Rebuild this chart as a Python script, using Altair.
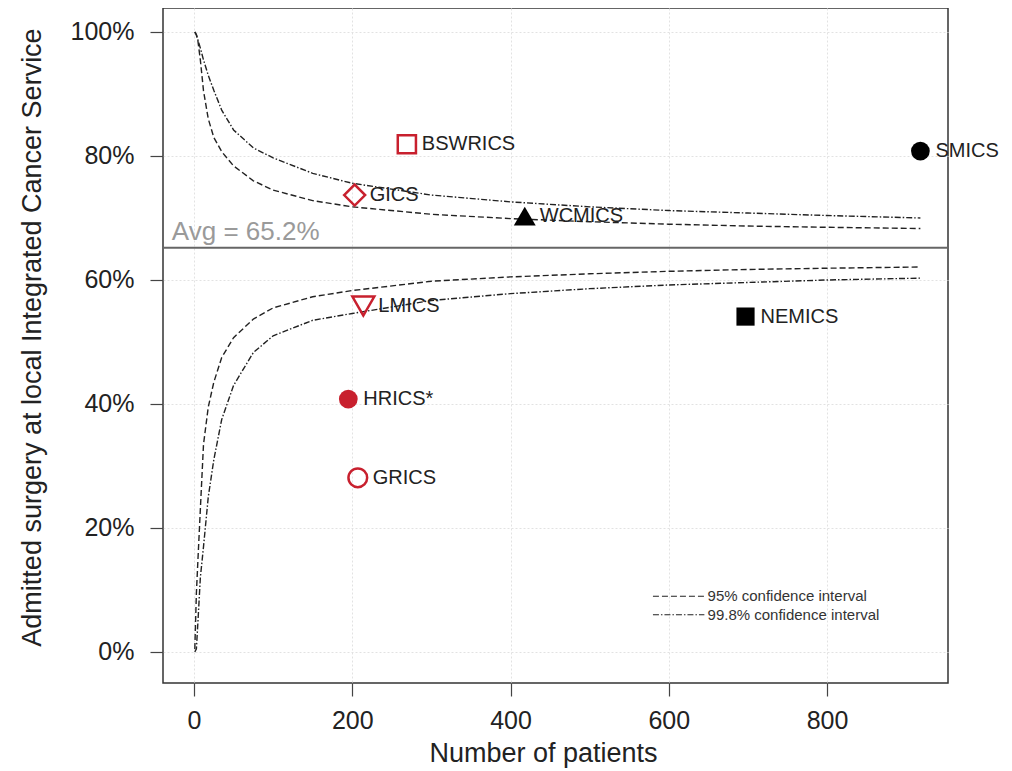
import altair as alt
import pandas as pd

# ---- funnel limits (percent) ----
n_grid = [1, 3, 5, 8, 12, 18, 25, 35, 50, 75, 100, 150, 200, 300, 400, 500, 600, 700, 800, 918]
upper_95 = [100, 99.5, 98.5, 95.5, 90.5, 86.0, 83.0, 80.7, 78.4, 76.0, 74.5, 72.8, 71.8, 70.6, 69.9, 69.4, 69.0, 68.7, 68.5, 68.3]
lower_95 = [0.5, 9.5, 15.0, 23.0, 33.5, 39.5, 43.5, 47.5, 50.7, 53.7, 55.5, 57.3, 58.3, 59.8, 60.5, 61.0, 61.4, 61.7, 61.9, 62.1]
upper_998 = [100, 99.6, 98.7, 97.4, 95.5, 93.0, 90.6, 87.4, 84.2, 81.3, 79.7, 77.2, 75.6, 73.7, 72.6, 71.8, 71.2, 70.8, 70.4, 70.0]
lower_998 = [0.0, 0.5, 5.0, 12.0, 17.0, 25.0, 31.0, 37.5, 43.0, 48.3, 51.0, 53.5, 54.6, 56.7, 57.8, 58.6, 59.2, 59.6, 60.0, 60.3]

# ---- services ----
services = ["BSWRICS", "GICS", "WCMICS", "SMICS", "LMICS", "NEMICS", "HRICS*", "GRICS"]
patients = [269, 203, 418, 918, 214, 697, 195, 207]
pct_local = [81.9, 73.7, 70.3, 80.8, 55.8, 54.1, 40.8, 28.1]
shapes = ["square", "diamond", "triangle-up", "circle", "triangle-down", "square", "circle", "circle"]
filled = [False, False, True, True, False, True, True, False]
groups = ["red", "red", "black", "black", "red", "black", "red", "red"]

average = 65.2
avg_label = "Avg = 65.2%"
avg_label_x = -28

legend_labels = ["95% confidence  interval", "99.8% confidence  interval"]
legend_ci = ["95", "99.8"]
legend_x_start = [580, 580]
legend_x_end = [645, 645]
legend_text_x = [649, 649]
legend_y = [9.0, 6.0]

x_ticks = [0, 200, 400, 600, 800]
y_ticks = [0, 0.2, 0.4, 0.6, 0.8, 1.0]

RED = "#c8202e"
palette = {"red": RED, "black": "#000000"}
size_map = {"square": 330, "diamond": 440, "triangle-up": 480, "triangle-down": 480, "circle": 350}

# ---- tables ----
rows = []
for ci, name, vals in [("95", "u95", upper_95), ("95", "l95", lower_95),
                       ("99.8", "u998", upper_998), ("99.8", "l998", lower_998)]:
    for n, v in zip(n_grid, vals):
        rows.append({"x": n, "y": v / 100, "curve": name, "ci": ci})
curves_df = pd.DataFrame(rows)

pts_df = pd.DataFrame({
    "x": patients,
    "y": [p / 100 for p in pct_local],
    "label": services,
    "shape": shapes,
    "filled": filled,
    "color": [palette[g] for g in groups],
})
pts_df["size"] = [size_map[s] for s in shapes]

avg_df = pd.DataFrame({"y": [average / 100], "x": [avg_label_x], "label": [avg_label]})

leg_df = pd.DataFrame({
    "x": legend_x_start, "x2": legend_x_end, "tx": legend_text_x,
    "y": [v / 100 for v in legend_y], "ci": legend_ci, "label": legend_labels,
})

x_scale = alt.Scale(domain=[-39.2, 952.9], nice=False, zero=False)
y_scale = alt.Scale(domain=[-0.05, 1.0387], nice=False, zero=False)

x_axis = alt.Axis(values=x_ticks, title="Number of patients", labelPadding=12,
                  titleX=380, titleY=78, titleBaseline="alphabetic", titleAlign="center",
                  format="d")
y_axis = alt.Axis(values=y_ticks, format=".0%", title="Admitted surgery at local Integrated Cancer Service",
                  labelPadding=16, titleX=-131, titleY=329, titleAngle=270,
                  titleAlign="center", titleBaseline="middle")

X = alt.X("x:Q", scale=x_scale, axis=x_axis)
Y = alt.Y("y:Q", scale=y_scale, axis=y_axis)

dash_scale = alt.Scale(domain=["95", "99.8"], range=[[6, 3], [6, 2, 1.5, 2]])

curves = alt.Chart(curves_df).mark_line(color="#222222", strokeWidth=1.4, clip=True).encode(
    x=X, y=Y, detail="curve:N",
    strokeDash=alt.StrokeDash("ci:N", scale=dash_scale, legend=None),
    order="x:Q",
)

avg_rule = alt.Chart(avg_df).mark_rule(color="#666666", strokeWidth=2).encode(y=Y)
avg_text = alt.Chart(avg_df).mark_text(align="left", baseline="alphabetic", dy=-8,
                                       fontSize=26, color="#9a9a9a").encode(x=X, y=Y, text="label:N")

open_pts = alt.Chart(pts_df[~pts_df["filled"]]).mark_point(filled=False, strokeWidth=2.5, opacity=1).encode(
    x=X, y=Y,
    shape=alt.Shape("shape:N", scale=None),
    color=alt.Color("color:N", scale=None),
    size=alt.Size("size:Q", scale=None),
)
filled_pts = alt.Chart(pts_df[pts_df["filled"]]).mark_point(filled=True, opacity=1).encode(
    x=X, y=Y,
    shape=alt.Shape("shape:N", scale=None),
    color=alt.Color("color:N", scale=None),
    size=alt.Size("size:Q", scale=None),
)
labels = alt.Chart(pts_df).mark_text(align="left", baseline="middle", dx=15, fontSize=20,
                                     color="#222222").encode(x=X, y=Y, text="label:N")

leg_lines = alt.Chart(leg_df).mark_rule(color="#222222", strokeWidth=1.1).encode(
    x=X, x2="x2:Q", y=Y,
    strokeDash=alt.StrokeDash("ci:N", scale=dash_scale, legend=None),
)
leg_text = alt.Chart(leg_df).mark_text(align="left", baseline="middle", fontSize=15,
                                       color="#333333").encode(x=alt.X("tx:Q", scale=x_scale, axis=x_axis), y=Y, text="label:N")

chart = alt.layer(curves, avg_rule, avg_text, open_pts, filled_pts, labels, leg_lines, leg_text).properties(
    width=785, height=675,
    autosize=alt.AutoSizeParams(type="none"),
    padding={"left": 155, "top": 0, "right": 52, "bottom": 85},
).configure_view(
    stroke="#333333", strokeWidth=1.5
).configure_axis(
    labelFont="Liberation Sans", labelFontSize=25, labelColor="#222222",
    titleFont="Liberation Sans", titleFontSize=27, titleFontWeight="normal", titleColor="#222222",
    tickColor="#444444", tickSize=13, tickWidth=1.2, domain=False,
    grid=True, gridColor="#e2e2e2", gridDash=[2, 2], gridWidth=1,
).configure_text(font="Liberation Sans")

chart.save("out.html", embed_options={"renderer": "svg", "actions": False})
